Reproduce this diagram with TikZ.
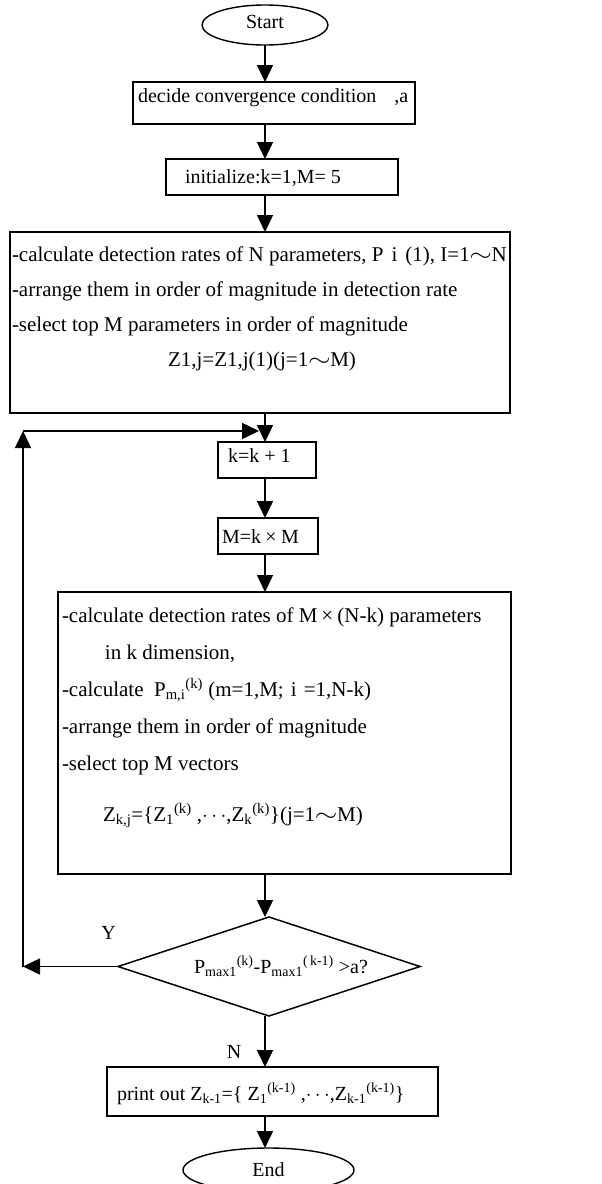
\documentclass[tikz,border=0pt]{standalone}
\usepackage{graphicx}
\usepackage{fontspec}
\setmainfont{Liberation Serif}
\usetikzlibrary{shapes.geometric, arrows.meta, positioning}
% width, height, first baseline, left pad, text
\newcommand{\boxlines}[5]{\parbox[c][#2][t]{#1}{\raggedright\leftskip=#4\relax\rule{0pt}{#3}#5}}
% wide (full width) tilde and times
\newcommand{\wtilde}{\makebox[22pt]{\scalebox{1.4}[1.1]{$\sim$}}}
\newcommand{\wtimes}{\makebox[20pt]{×}}

\begin{document}
\begin{tikzpicture}[node distance=36pt, font=\fontsize{20}{24}\selectfont,
  terminal/.style={ellipse, draw, line width=1.4pt, minimum width=126pt, minimum height=40pt, inner sep=0pt, outer sep=0pt},
  block/.style={rectangle, draw, line width=1.5pt, inner sep=0pt, outer sep=0pt},
  decision/.style={diamond, draw, line width=1.5pt, aspect=3, minimum width=302pt, minimum height=99pt, inner sep=0pt, outer sep=0pt},
  yesno/.style={inner sep=3pt},
  arrow/.style={-{Triangle[length=17pt,width=16pt]}, line width=1.5pt}
]
  \useasboundingbox (0pt,0pt) rectangle (602pt,-1184pt);

  \node[terminal] (start) at (265pt,-25pt) {\raisebox{7pt}{Start}};
  \node[block, below=37pt of start, xshift=9pt] (decide) {\boxlines{282pt}{42pt}{20pt}{5pt}{decide convergence condition\hspace{18pt},a}};
  \node[block, below=35pt of decide, xshift=8pt] (init) {\boxlines{232pt}{36pt}{24pt}{19pt}{initialize:k=1,M= 5}};
  \node[block, below=37pt of init, xshift=-22pt, font=\fontsize{21}{35}\selectfont] (calc) {\boxlines{500pt}{181pt}{29pt}{2pt}{%
    \mbox{-calculate detection rates of N parameters, P\makebox[22pt]{i}(1), I=1\wtilde N}\\
    -arrange them in order of magnitude in detection rate\\
    -select top M parameters in order of magnitude\\
    \hspace*{156pt}Z1,j=Z1,j(1)(j=1\wtilde M)}};
  \node[block, below=29pt of calc, xshift=7pt] (incr) {\boxlines{98pt}{36pt}{20pt}{10pt}{k=k + 1}};
  \node[block, below=40pt of incr, xshift=1pt] (mult) {\boxlines{100pt}{36pt}{25pt}{4pt}{M=k\wtimes M}};
  \node[block, below=38pt of mult, xshift=16.5pt, font=\fontsize{21}{37}\selectfont] (vec) {\boxlines{453pt}{282pt}{30pt}{4pt}{%
    \mbox{-calculate detection rates of M\wtimes(N-k) parameters}\\
    \hspace*{43pt}in k dimension,\\
    -calculate\ \ P\textsubscript{m,i}\textsuperscript{(k)} (m=1,M;\makebox[20pt]{i}=1,N-k)\\
    -arrange them in order of magnitude\\
    -select top M vectors\\[14pt]
    \hspace*{41pt}Z\textsubscript{k,j}=\{Z\textsubscript{1}\textsuperscript{(k)} ,$\cdots$,Z\textsubscript{k}\textsuperscript{(k)}\}(j=1\wtilde M)}};
  \node[decision, below=43pt of vec, xshift=-15.5pt] (dec) {\raisebox{-7pt}{\hspace{24pt}P\textsubscript{max1}\textsuperscript{(k)}-P\textsubscript{max1}\textsuperscript{(\,k-1)} >a?}};
  \node[block, below=51pt of dec, xshift=3.5pt] (print) {\boxlines{331pt}{49pt}{33pt}{10pt}{print out Z\textsubscript{k-1}=\{ Z\textsubscript{1}\textsuperscript{(k-1)} ,$\cdots$,Z\textsubscript{k-1}\textsuperscript{(k-1)}\}}};
  \node[terminal, below=32pt of print, xshift=-4pt, minimum width=171pt, minimum height=44pt] (end) {End};

  % main line
  \draw[arrow] (start.south) -- (decide.north -| start.south);
  \draw[arrow] (decide.south -| start.south) -- (init.north -| start.south);
  \draw[arrow] (init.south -| start.south) -- (calc.north -| start.south);
  \draw[arrow] (calc.south -| start.south) -- (incr.north -| start.south);
  \draw[arrow] (incr.south -| start.south) -- (mult.north -| start.south);
  \draw[arrow] (mult.south -| start.south) -- (vec.north -| start.south);
  \draw[arrow] (vec.south -| start.south) -- (dec.north -| start.south);
  \draw[arrow] (dec.south -| start.south) -- (print.north -| start.south) node[yesno, pos=0.7, left=20pt] {N};
  \draw[arrow] (print.south -| start.south) -- (end.north -| start.south);

  % loop back
  \coordinate (edge) at ([xshift=13pt]calc.west);
  \coordinate (loopA) at (edge |- dec.west);
  \coordinate (joinR) at ([xshift=-8pt,yshift=11pt]incr.north);
  \coordinate (loopB) at (edge |- joinR);
  \draw[arrow] (dec.west) -- (loopA) node[yesno, pos=0.1, above=23pt] {Y};
  \draw[arrow] (loopA) -- (loopB);
  \draw[arrow] (loopB) -- (joinR);
\end{tikzpicture}
\end{document}
